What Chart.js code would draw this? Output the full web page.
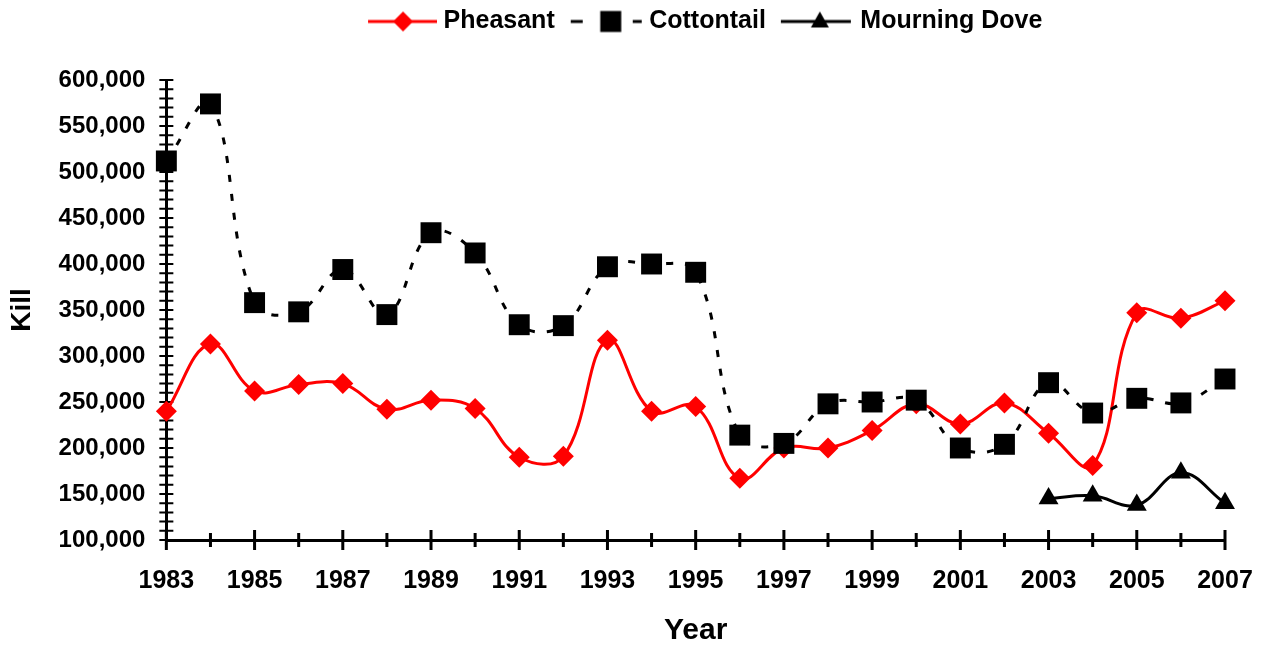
<!DOCTYPE html>
<html>
<head>
<meta charset="utf-8">
<title>Kill by year</title>
<script src="https://cdn.jsdelivr.net/npm/chart.js@4.4.1/dist/chart.umd.min.js"></script>
<style>
    html, body { margin: 0; padding: 0; background: #ffffff; }
    #wrap { width: 1264px; height: 645px; }
</style>
</head>
<body>
<div id="wrap"><canvas id="killChart"></canvas></div>
<script>
const years = [1983, 1984, 1985, 1986, 1987, 1988, 1989, 1990, 1991, 1992, 1993, 1994, 1995,
               1996, 1997, 1998, 1999, 2000, 2001, 2002, 2003, 2004, 2005, 2006, 2007];

const pheasant = [240000, 313000, 262000, 269000, 270000, 242000, 252000, 243000, 190000, 191000,
                  317000, 240000, 245000, 167000, 200000, 200000, 219000, 248000, 226000, 249000,
                  216000, 181000, 347000, 341000, 360000];

const cottontail = [512000, 574000, 358000, 348000, 394000, 345000, 434000, 412000, 334000, 333000,
                    397000, 400000, 391000, 214000, 205000, 248000, 250000, 252000, 200000, 204000,
                    271000, 238000, 254000, 249000, 275000];

const mourningDove = [null, null, null, null, null, null, null, null, null, null,
                      null, null, null, null, null, null, null, null, null, null,
                      145000, 148000, 138000, 173000, 140000];

const seriesNames = ["Pheasant", "Cottontail", "Mourning Dove"];

const yMin = 100000;
const yMax = 600000;

const FONT = "'Liberation Sans', Arial, sans-serif";

function toPoints(values) {
    return years.map((yr, i) => ({ x: yr, y: values[i] }));
}

// legend swatches: line + marker, drawn into small canvases
function legendIcon(kind) {
    const c = document.createElement("canvas");
    c.width = 94;
    c.height = 26;
    const g = c.getContext("2d");
    const mid = 13;
    g.lineWidth = 3;

    if (kind === "pheasant") {
        g.strokeStyle = "#ff0000";
        g.fillStyle = "#ff0000";
        g.beginPath(); g.moveTo(25, mid); g.lineTo(94, mid); g.stroke();
        g.beginPath();
        g.moveTo(60, mid - 10); g.lineTo(70, mid); g.lineTo(60, mid + 10); g.lineTo(50, mid);
        g.closePath(); g.fill();
    } else if (kind === "cottontail") {
        g.strokeStyle = "#000";
        g.fillStyle = "#000";
        g.beginPath();
        g.moveTo(22, mid); g.lineTo(34, mid);
        g.moveTo(84, mid); g.lineTo(93, mid);
        g.stroke();
        g.fillRect(62 - 10.5, mid - 10.5, 21, 21);
    } else {
        g.strokeStyle = "#000";
        g.fillStyle = "#000";
        g.beginPath(); g.moveTo(21, mid); g.lineTo(91, mid); g.stroke();
        g.beginPath();
        g.moveTo(60, mid - 10); g.lineTo(69, mid + 6); g.lineTo(51, mid + 6);
        g.closePath(); g.fill();
    }
    return c;
}

const legendIcons = [legendIcon("pheasant"), legendIcon("cottontail"), legendIcon("dove")];

// axis ticks that cross the axis line, like the original
const crossTicks = {
    id: "crossTicks",
    beforeDatasetsDraw(chart) {
        const { ctx, scales: { x, y } } = chart;
        ctx.save();
        ctx.strokeStyle = "#000";

        ctx.lineWidth = 2;
        ctx.beginPath();
        y.ticks.forEach(t => {
            const py = y.getPixelForValue(t.value);
            ctx.moveTo(y.right - 7, py);
            ctx.lineTo(y.right + 7, py);
        });
        ctx.stroke();

        ctx.lineWidth = 3;
        ctx.beginPath();
        x.ticks.forEach(t => {
            const px = x.getPixelForValue(t.value);
            const len = t.value % 2 === 1 ? 10 : 7;
            ctx.moveTo(px, x.top - len);
            ctx.lineTo(px, x.top + len);
        });
        ctx.stroke();
        ctx.restore();
    }
};

// extra room under the legend
const legendMargin = {
    id: "legendMargin",
    beforeInit(chart) {
        const fit = chart.legend.fit;
        chart.legend.fit = function () {
            fit.bind(chart.legend)();
            this.height += 36;
        };
    }
};

new Chart(document.getElementById("killChart"), {
    type: "line",
    data: {
        datasets: [
            {
                label: seriesNames[0],
                data: toPoints(pheasant),
                borderColor: "#ff0000",
                backgroundColor: "#ff0000",
                borderWidth: 3,
                tension: 0.4,
                pointStyle: "rectRot",
                pointRadius: 10.5,
                pointHoverRadius: 10.5,
                pointBorderWidth: 0,
                clip: false,
                order: 3
            },
            {
                label: seriesNames[1],
                data: toPoints(cottontail),
                borderColor: "#000000",
                backgroundColor: "#000000",
                borderWidth: 3,
                borderDash: [7, 12],
                tension: 0.4,
                pointStyle: "rect",
                pointRadius: 14.8,
                pointHoverRadius: 14.8,
                pointBorderWidth: 0,
                clip: false,
                order: 2
            },
            {
                label: seriesNames[2],
                data: toPoints(mourningDove),
                borderColor: "#000000",
                backgroundColor: "#000000",
                borderWidth: 3,
                tension: 0.4,
                pointStyle: "triangle",
                pointRadius: 11.5,
                pointHoverRadius: 11.5,
                pointBorderWidth: 0,
                clip: false,
                order: 1
            }
        ]
    },
    options: {
        responsive: true,
        maintainAspectRatio: false,
        animation: false,
        layout: {
            padding: { left: 0, right: 39, top: 9, bottom: 0 }
        },
        plugins: {
            tooltip: { enabled: false },
            legend: {
                position: "top",
                fullSize: false,
                labels: {
                    usePointStyle: true,
                    pointStyleWidth: 82,
                    padding: 0,
                    color: "#000",
                    font: { family: FONT, size: 25, weight: "bold" },
                    sort: (a, b) => a.datasetIndex - b.datasetIndex,
                    generateLabels(chart) {
                        const items = Chart.defaults.plugins.legend.labels.generateLabels(chart);
                        items.forEach(it => {
                            it.pointStyle = legendIcons[it.datasetIndex];
                            it.fontColor = "#000";
                        });
                        return items;
                    }
                }
            }
        },
        scales: {
            x: {
                type: "linear",
                min: years[0],
                max: years[years.length - 1],
                grid: { drawOnChartArea: false, drawTicks: true, tickLength: 26, tickColor: "rgba(0,0,0,0)" },
                border: { display: true, color: "#000", width: 3 },
                ticks: {
                    stepSize: 1,
                    autoSkip: false,
                    maxRotation: 0,
                    padding: 0,
                    color: "#000",
                    font: { family: FONT, size: 25, weight: "bold" },
                    callback: v => (v % 2 === 1 ? String(v) : "")
                },
                title: {
                    display: true,
                    text: "Year",
                    color: "#000",
                    font: { family: FONT, size: 30, weight: "bold" },
                    padding: { top: 17, bottom: -4 }
                }
            },
            y: {
                min: yMin,
                max: yMax,
                grid: { drawOnChartArea: false, drawTicks: true, tickLength: 21, tickColor: "rgba(0,0,0,0)" },
                border: { display: true, color: "#000", width: 3 },
                ticks: {
                    stepSize: 10000,
                    autoSkip: false,
                    padding: 0,
                    color: "#000",
                    font: { family: FONT, size: 24, weight: "bold" },
                    callback: v => (v % 50000 === 0 ? v.toLocaleString("en-US") : "")
                },
                title: {
                    display: true,
                    text: "Kill",
                    color: "#000",
                    font: { family: FONT, size: 28, weight: "bold" },
                    padding: { top: 5, bottom: 20 }
                }
            }
        }
    },
    plugins: [crossTicks, legendMargin]
});
</script>
</body>
</html>
